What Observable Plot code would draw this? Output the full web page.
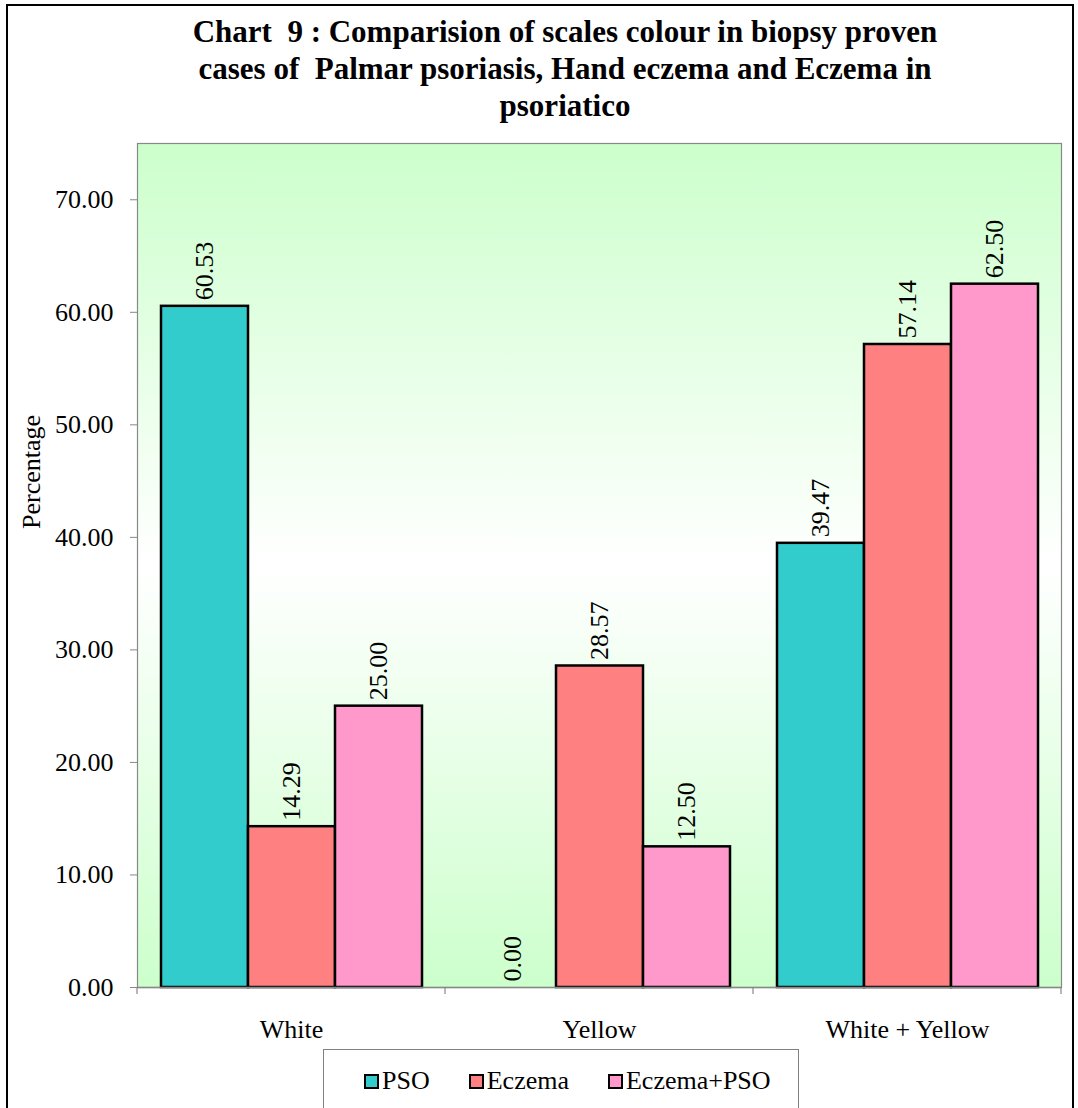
<!DOCTYPE html>
<html>
<head>
<meta charset="utf-8">
<script src="https://cdn.jsdelivr.net/npm/d3@7"></script>
<script src="https://cdn.jsdelivr.net/npm/@observablehq/plot@0.6"></script>
<style>
  body { margin: 0; background: #fff; font-family: "Liberation Serif", "Times New Roman", serif; color: #000; }
  #page { position: relative; width: 1078px; height: 1108px; overflow: hidden; font-family: "Liberation Serif", "Times New Roman", serif; }
  #border { position: absolute; left: 6px; top: 4px; width: 1068px; height: 1130px; border: 2px solid #000; box-sizing: border-box; }
  #title { position: absolute; left: 65px; width: 1000px; top: 13px; text-align: center; font-family: "Liberation Serif", serif; font-weight: bold; font-size: 31px; line-height: 37px; }
  #chart { position: absolute; left: 0; top: 130px; }
  #ylabel { position: absolute; left: 32px; top: 472px; transform: translate(-50%, -50%) rotate(-90deg); font-family: "Liberation Serif", serif; font-size: 26px; white-space: nowrap; }
  #legend { position: absolute; left: 323px; top: 1049px; width: 476px; height: 80px; border: 1px solid #808080; box-sizing: border-box; background: #fff; }
  #legend .items { position: absolute; left: 40px; top: 16px; display: flex; gap: 39px; font-family: "Liberation Serif", serif; font-size: 26px; line-height: 30px; }
  #legend .item { display: flex; align-items: center; white-space: nowrap; }
  #legend .sw { width: 11px; height: 11px; border: 2px solid #000; margin-right: 3px; }
</style>
</head>
<body>
<div id="page">
  <div id="border"></div>
  <div id="title">Chart&nbsp; 9 : Comparision of scales colour in biopsy proven<br>cases of&nbsp; Palmar psoriasis, Hand eczema and Eczema in<br>psoriatico</div>
  <div id="chart"></div>
  <div id="ylabel">Percentage</div>
  <div id="legend"><div class="items"></div></div>
</div>
<script>
// Scale colour groups and the three patient series
const categories = ["White", "Yellow", "White + Yellow"];
const seriesNames = ["PSO", "Eczema", "Eczema+PSO"];
const seriesColors = ["#33CCCC", "#FF8080", "#FF99CC"];

// Percentages per series, in category order
const psoValues = [60.53, 0.00, 39.47];
const eczemaValues = [14.29, 28.57, 57.14];
const eczemaPsoValues = [25.00, 12.50, 62.50];

const yTicks = [0, 10, 20, 30, 40, 50, 60, 70];

const seriesValues = [psoValues, eczemaValues, eczemaPsoValues];
const data = [];
categories.forEach((cat, i) => {
  seriesNames.forEach((s, j) => data.push({cat, series: s, value: seriesValues[j][i]}));
});

const chart = Plot.plot({
  width: 1078,
  height: 920,
  marginLeft: 137,
  marginRight: 17,
  marginTop: 13,
  marginBottom: 63,
  style: {fontFamily: "'Liberation Serif', 'Times New Roman', serif", fontSize: "26px", color: "#000", background: "transparent", overflow: "visible"},
  fx: {domain: categories, paddingInner: 0, paddingOuter: 0, label: null, axis: "bottom", tickSize: 0, tickPadding: 32},
  x: {domain: seriesNames, paddingInner: 0, paddingOuter: 0.27, axis: null},
  y: {domain: [0, 75], ticks: yTicks, tickFormat: d => d.toFixed(2), label: null, tickSize: 7, tickPadding: 17},
  color: {domain: seriesNames, range: seriesColors},
  marks: [
    Plot.frame({facet: "super", fill: "url(#plotBg)", stroke: "#888", strokeWidth: 1.2}),
    Plot.barY(data, {fx: "cat", x: "series", y: "value", fill: "series", stroke: "#000", strokeWidth: 2.5}),
    Plot.ruleY([0], {stroke: "#888", strokeWidth: 1.5}),
    Plot.text(data, {fx: "cat", x: "series", y: "value", text: d => d.value.toFixed(2), rotate: -90, textAnchor: "start", dy: -6, fontSize: 26, fill: "#000"})
  ]
});

// Vertical gradient for the plot area background
const svg = d3.select(chart.tagName === "svg" ? chart : chart.querySelector("svg"));
const grad = svg.insert("defs", ":first-child").append("linearGradient")
  .attr("id", "plotBg").attr("x1", 0).attr("y1", 0).attr("x2", 0).attr("y2", 1);
grad.append("stop").attr("offset", "0%").attr("stop-color", "#CCFFCC");
grad.append("stop").attr("offset", "50%").attr("stop-color", "#FFFFFF");
grad.append("stop").attr("offset", "100%").attr("stop-color", "#CCFFCC");

// Y tick marks in grey
svg.selectAll("[aria-label='y-axis tick'] path").attr("stroke", "#888");

// Small category boundary ticks under the x axis
const fx = chart.scale("fx");
const yScale = chart.scale("y");
const y0 = yScale.apply(0);
const edges = categories.map(c => fx.apply(c)).concat([fx.apply(categories[categories.length - 1]) + fx.bandwidth]);
svg.append("g").selectAll("line").data(edges).join("line")
  .attr("x1", d => d).attr("x2", d => d)
  .attr("y1", y0).attr("y2", y0 + 7)
  .attr("stroke", "#888").attr("stroke-width", 1.2);

document.getElementById("chart").appendChild(chart);

// Legend
const items = d3.select("#legend .items");
seriesNames.forEach((s, i) => {
  const it = items.append("div").attr("class", "item");
  it.append("div").attr("class", "sw").style("background", seriesColors[i]);
  it.append("span").text(s);
});
</script>
</body>
</html>
